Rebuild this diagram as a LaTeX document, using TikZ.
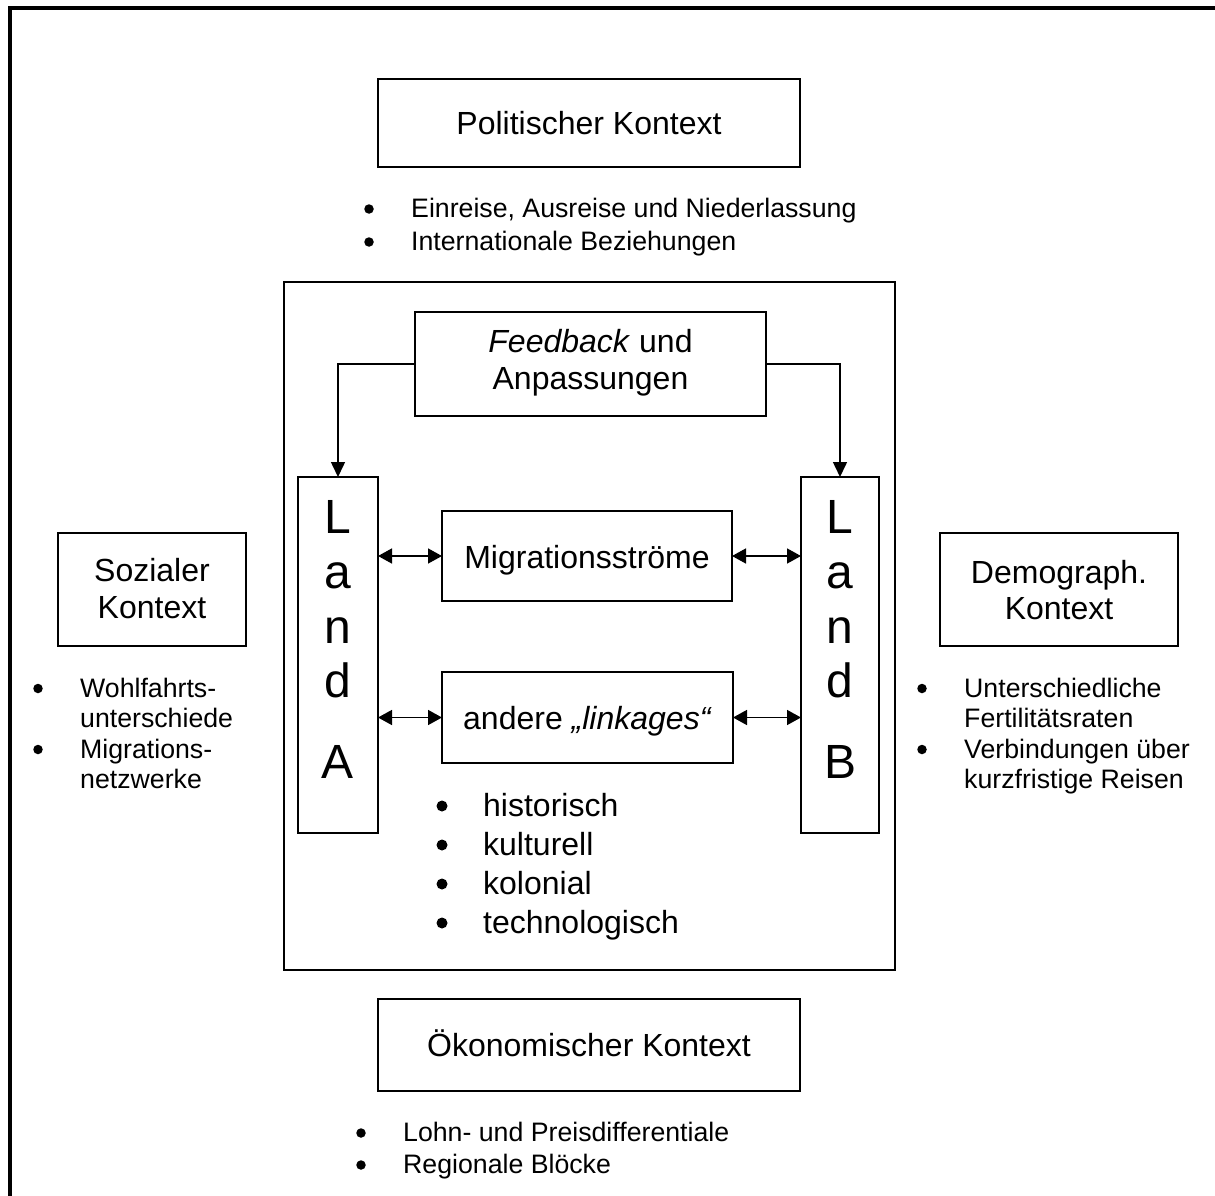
\documentclass[tikz,border=0pt]{standalone}
\usepackage{fontspec}
\setmainfont{Liberation Sans}
\usetikzlibrary{arrows.meta}
\tikzset{
  box/.style={draw, line width=1.8pt, inner sep=0pt, outer sep=0pt},
  big/.style={font=\fontsize{32}{37}\selectfont, inner sep=0pt, anchor=base},
  small/.style={font=\fontsize{26.7}{30.7}\selectfont, inner sep=0pt, anchor=base west},
  sdot/.style={circle, fill=black, inner sep=0pt, minimum size=9.5pt},
  mid/.style={font=\fontsize{32}{37}\selectfont, inner sep=0pt, anchor=base west},
  mdot/.style={circle, fill=black, inner sep=0pt, minimum size=11pt},
  letter/.style={font=\fontsize{48}{55}\selectfont, inner sep=0pt, anchor=base},
  fbarrow/.style={line width=1.5pt, -{Triangle[length=15pt,width=14pt]}},
  dblarrow/.style={line width=1.5pt, {Triangle[length=14pt,width=15pt]}-{Triangle[length=14pt,width=15pt]}}
}
\begin{document}
\begin{tikzpicture}[x=1pt,y=-1pt]
\useasboundingbox (0,0) rectangle (1215,1196);
\fill[white] (0,0) rectangle (1215,1196);
% outer frame
\draw[line width=3.2pt] (10,1197) -- (10,8) -- (1216,8);

% Politischer Kontext
\node[box, minimum width=422pt, minimum height=88pt] (pol) at (589,123) {};
\node[big] (poltxt) at (589,134.5) {Politischer Kontext};
\node[sdot] (polb1) at (369,209) {};
\node[small] (polt1) at (411,217.5) {Einreise, Ausreise und Niederlassung};
\node[sdot] (polb2) at (369,242) {};
\node[small] (polt2) at (411,250.5) {Internationale Beziehungen};

% central frame
\node[box, minimum width=611pt, minimum height=688pt] (core) at (589.5,626) {};

% Feedback
\node[box, minimum width=351pt, minimum height=104pt] (fb) at (590.5,364) {};
\node[big] (fbt1) at (590.5,352) {\textit{Feedback} und};
\node[big] (fbt2) at (590.5,389) {Anpassungen};

% Land A / Land B
\node[box, minimum width=80pt, minimum height=356pt] (landA) at (338,655) {};
\node[box, minimum width=78pt, minimum height=356pt] (landB) at (840,655) {};
\node[letter] (a1) at (338,533) {L};
\node[letter] (a2) at (338,588) {a};
\node[letter] (a3) at (338,643) {n};
\node[letter] (a4) at (338,697) {d};
\node[letter] (a5) at (338,778) {A};
\node[letter] (b1) at (840,533) {L};
\node[letter] (b2) at (840,588) {a};
\node[letter] (b3) at (840,643) {n};
\node[letter] (b4) at (840,697) {d};
\node[letter] (b5) at (840,778) {B};

% middle boxes
\node[box, minimum width=290pt, minimum height=90pt] (mig) at (587,556) {};
\node[big] (migt) at (587,568) {Migrationsströme};
\node[box, minimum width=291pt, minimum height=91pt] (link) at (587.5,717.5) {};
\node[big] (linkt) at (587.5,729) {andere \textit{„linkages“}};

% feedback arrows
\draw[fbarrow] (fb.west) -| (landA.north);
\draw[fbarrow] (fb.east) -| (landB.north);
% double arrows
\draw[dblarrow] (landA.east |- mig.west) -- (mig.west);
\draw[dblarrow] (mig.east) -- (landB.west |- mig.east);
\draw[dblarrow] (landA.east |- link.west) -- (link.west);
\draw[dblarrow] (link.east) -- (landB.west |- link.east);

% linkage bullets
\node[mdot] (lb1) at (442,806) {};
\node[mid] (lt1) at (483,816) {historisch};
\node[mdot] (lb2) at (442,845) {};
\node[mid] (lt2) at (483,855) {kulturell};
\node[mdot] (lb3) at (442,884) {};
\node[mid] (lt3) at (483,894) {kolonial};
\node[mdot] (lb4) at (442,923) {};
\node[mid] (lt4) at (483,933) {technologisch};

% Sozialer Kontext
\node[box, minimum width=188pt, minimum height=113pt] (soz) at (152,589.5) {};
\node[big] (sozt1) at (152,581) {Sozialer};
\node[big] (sozt2) at (152,618) {Kontext};
\node[sdot] (sb1) at (38,688.5) {};
\node[small] (st1) at (80,697) {Wohlfahrts-};
\node[small] (st2) at (80,727) {unterschiede};
\node[sdot] (sb2) at (38,749.5) {};
\node[small] (st3) at (80,758) {Migrations-};
\node[small] (st4) at (80,788) {netzwerke};

% Demograph. Kontext
\node[box, minimum width=238pt, minimum height=113pt] (dem) at (1059,589.5) {};
\node[big] (demt1) at (1059,583) {Demograph.};
\node[big] (demt2) at (1059,619) {Kontext};
\node[sdot] (db1) at (922,688.5) {};
\node[small] (dt1) at (964,697) {Unterschiedliche};
\node[small] (dt2) at (964,727) {Fertilitätsraten};
\node[sdot] (db2) at (922,749.5) {};
\node[small] (dt3) at (964,758) {Verbindungen über};
\node[small] (dt4) at (964,788) {kurzfristige Reisen};

% Oekonomischer Kontext
\node[box, minimum width=422pt, minimum height=92pt] (oek) at (589,1045) {};
\node[big] (oekt) at (589,1056) {Ökonomischer Kontext};
\node[sdot] (ob1) at (361,1133) {};
\node[small] (ot1) at (403,1141.5) {Lohn- und Preisdifferentiale};
\node[sdot] (ob2) at (361,1165) {};
\node[small] (ot2) at (403,1173.5) {Regionale Blöcke};
\end{tikzpicture}
\end{document}
